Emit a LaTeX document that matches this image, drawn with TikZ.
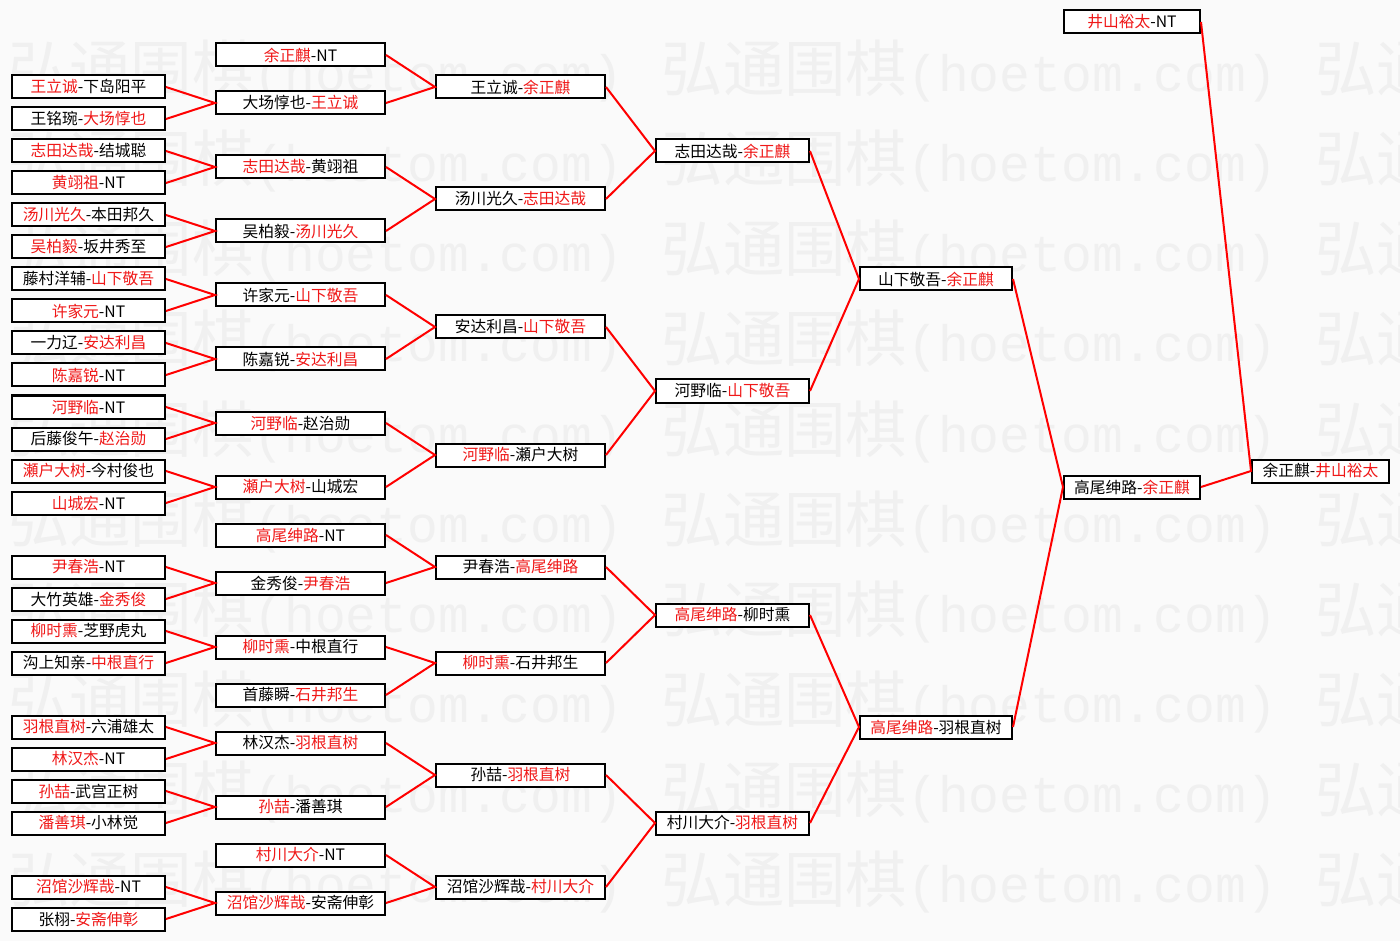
\documentclass[tikz,border=0pt]{standalone}
\usepackage{fontspec}
\setmainfont{Noto Sans CJK SC}
\newfontfamily\wmmono{Liberation Mono}
\usepackage{tikz}
\definecolor{winc}{HTML}{F01818}
\definecolor{linec}{HTML}{FF0000}
\definecolor{bgc}{HTML}{FAFAFA}
\definecolor{wmc}{HTML}{F0F0F0}
\newcommand{\winner}[1]{\textcolor{winc}{#1}}
\newcommand{\wmsite}{{\wmmono\fontsize{38.5}{40}\selectfont (hoetom.com)}}
\newcommand{\wmrow}{弘通围棋\wmsite\hspace{29pt}弘通围棋\wmsite\hspace{29pt}弘通}
\tikzset{
  game/.style={draw, line width=1.5pt, fill=white, inner sep=0pt, minimum height=17.25pt, font=\fontsize{11.8}{13}\selectfont},
  colA/.style={game, minimum width=114.75pt},
  colB/.style={game, minimum width=126.75pt},
  colD/.style={game, minimum width=114.75pt},
  colE/.style={game, minimum width=114pt},
  colF/.style={game, minimum width=102pt},
  conn/.style={draw=linec, line width=1.5pt},
  wm/.style={inner sep=0pt, anchor=base west, text=wmc, font=\fontsize{46}{50}\selectfont},
}

\begin{document}
\begin{tikzpicture}[x=0.75pt, y=-0.75pt]
  \useasboundingbox (0,0) rectangle (1400,941);
  \fill[bgc] (0,0) rectangle (1400,941);
  % watermark
  \begin{scope}
    \clip (0,0) rectangle (1400,941);
    \node[wm] (wm1) at (8,92) {\wmrow};
    \node[wm] (wm2) at (8,182) {\wmrow};
    \node[wm] (wm3) at (8,272) {\wmrow};
    \node[wm] (wm4) at (8,362) {\wmrow};
    \node[wm] (wm5) at (8,452) {\wmrow};
    \node[wm] (wm6) at (8,542) {\wmrow};
    \node[wm] (wm7) at (8,632) {\wmrow};
    \node[wm] (wm8) at (8,722) {\wmrow};
    \node[wm] (wm9) at (8,812) {\wmrow};
    \node[wm] (wm10) at (8,902) {\wmrow};
  \end{scope}

  % round 1
  \node[colA] (a1) at (88.5,87) {\winner{王立诚}-下岛阳平};
  \node[colA] (a2) at (88.5,119) {王铭琬-\winner{大场惇也}};
  \node[colA] (a3) at (88.5,151) {\winner{志田达哉}-结城聪};
  \node[colA] (a4) at (88.5,183) {\winner{黄翊祖}-NT};
  \node[colA] (a5) at (88.5,215) {\winner{汤川光久}-本田邦久};
  \node[colA] (a6) at (88.5,247) {\winner{吴柏毅}-坂井秀至};
  \node[colA] (a7) at (88.5,279) {藤村洋辅-\winner{山下敬吾}};
  \node[colA] (a8) at (88.5,311) {\winner{许家元}-NT};
  \node[colA] (a9) at (88.5,343) {一力辽-\winner{安达利昌}};
  \node[colA] (a10) at (88.5,375) {\winner{陈嘉锐}-NT};
  \node[colA] (a11) at (88.5,407) {\winner{河野临}-NT};
  \node[colA] (a12) at (88.5,439) {后藤俊午-\winner{赵治勋}};
  \node[colA] (a13) at (88.5,471) {\winner{瀬户大树}-今村俊也};
  \node[colA] (a14) at (88.5,503) {\winner{山城宏}-NT};
  \node[colA] (a15) at (88.5,567) {\winner{尹春浩}-NT};
  \node[colA] (a16) at (88.5,599) {大竹英雄-\winner{金秀俊}};
  \node[colA] (a17) at (88.5,631) {\winner{柳时熏}-芝野虎丸};
  \node[colA] (a18) at (88.5,663) {沟上知亲-\winner{中根直行}};
  \node[colA] (a19) at (88.5,727) {\winner{羽根直树}-六浦雄太};
  \node[colA] (a20) at (88.5,759) {\winner{林汉杰}-NT};
  \node[colA] (a21) at (88.5,791) {\winner{孙喆}-武宫正树};
  \node[colA] (a22) at (88.5,823) {\winner{潘善琪}-小林觉};
  \node[colA] (a23) at (88.5,887) {\winner{沼馆沙辉哉}-NT};
  \node[colA] (a24) at (88.5,919) {张栩-\winner{安斋伸彰}};

  % round 2
  \node[colB] (b1) at (300.5,55) {\winner{余正麒}-NT};
  \node[colB] (b2) at (300.5,103) {大场惇也-\winner{王立诚}};
  \node[colB] (b3) at (300.5,167) {\winner{志田达哉}-黄翊祖};
  \node[colB] (b4) at (300.5,231) {吴柏毅-\winner{汤川光久}};
  \node[colB] (b5) at (300.5,295) {许家元-\winner{山下敬吾}};
  \node[colB] (b6) at (300.5,359) {陈嘉锐-\winner{安达利昌}};
  \node[colB] (b7) at (300.5,423) {\winner{河野临}-赵治勋};
  \node[colB] (b8) at (300.5,487) {\winner{瀬户大树}-山城宏};
  \node[colB] (b9) at (300.5,535) {\winner{高尾绅路}-NT};
  \node[colB] (b10) at (300.5,583) {金秀俊-\winner{尹春浩}};
  \node[colB] (b11) at (300.5,647) {\winner{柳时熏}-中根直行};
  \node[colB] (b12) at (300.5,695) {首藤瞬-\winner{石井邦生}};
  \node[colB] (b13) at (300.5,743) {林汉杰-\winner{羽根直树}};
  \node[colB] (b14) at (300.5,807) {\winner{孙喆}-潘善琪};
  \node[colB] (b15) at (300.5,855) {\winner{村川大介}-NT};
  \node[colB] (b16) at (300.5,903) {\winner{沼馆沙辉哉}-安斋伸彰};

  % round 3
  \node[colB] (c1) at (520.5,87) {王立诚-\winner{余正麒}};
  \node[colB] (c2) at (520.5,199) {汤川光久-\winner{志田达哉}};
  \node[colB] (c3) at (520.5,327) {安达利昌-\winner{山下敬吾}};
  \node[colB] (c4) at (520.5,455) {\winner{河野临}-瀬户大树};
  \node[colB] (c5) at (520.5,567) {尹春浩-\winner{高尾绅路}};
  \node[colB] (c6) at (520.5,663) {\winner{柳时熏}-石井邦生};
  \node[colB] (c7) at (520.5,775) {孙喆-\winner{羽根直树}};
  \node[colB] (c8) at (520.5,887) {沼馆沙辉哉-\winner{村川大介}};

  % round 4 and on
  \node[colD] (d1) at (732.5,151) {志田达哉-\winner{余正麒}};
  \node[colD] (d2) at (732.5,391) {河野临-\winner{山下敬吾}};
  \node[colD] (d3) at (732.5,615) {\winner{高尾绅路}-柳时熏};
  \node[colD] (d4) at (732.5,823) {村川大介-\winner{羽根直树}};
  \node[colE] (e1) at (936,279) {山下敬吾-\winner{余正麒}};
  \node[colE] (e2) at (936,727) {\winner{高尾绅路}-羽根直树};
  \node[colF] (f1) at (1132,22) {\winner{井山裕太}-NT};
  \node[colF] (f2) at (1132,487) {高尾绅路-\winner{余正麒}};
  \node[colF, minimum width=102.75pt] (fin) at (1320.5,471) {余正麒-\winner{井山裕太}};

  \draw[conn] (a1.east) -- (b2.west) -- (a2.east); \draw[conn] (a3.east) -- (b3.west) -- (a4.east);
  \draw[conn] (a5.east) -- (b4.west) -- (a6.east); \draw[conn] (a7.east) -- (b5.west) -- (a8.east);
  \draw[conn] (a9.east) -- (b6.west) -- (a10.east); \draw[conn] (a11.east) -- (b7.west) -- (a12.east);
  \draw[conn] (a13.east) -- (b8.west) -- (a14.east); \draw[conn] (a15.east) -- (b10.west) -- (a16.east);
  \draw[conn] (a17.east) -- (b11.west) -- (a18.east); \draw[conn] (a19.east) -- (b13.west) -- (a20.east);
  \draw[conn] (a21.east) -- (b14.west) -- (a22.east); \draw[conn] (a23.east) -- (b16.west) -- (a24.east);
  \draw[conn] (b1.east) -- (c1.west) -- (b2.east); \draw[conn] (b3.east) -- (c2.west) -- (b4.east);
  \draw[conn] (b5.east) -- (c3.west) -- (b6.east); \draw[conn] (b7.east) -- (c4.west) -- (b8.east);
  \draw[conn] (b9.east) -- (c5.west) -- (b10.east); \draw[conn] (b11.east) -- (c6.west) -- (b12.east);
  \draw[conn] (b13.east) -- (c7.west) -- (b14.east); \draw[conn] (b15.east) -- (c8.west) -- (b16.east);
  \draw[conn] (c1.east) -- (d1.west) -- (c2.east); \draw[conn] (c3.east) -- (d2.west) -- (c4.east);
  \draw[conn] (c5.east) -- (d3.west) -- (c6.east); \draw[conn] (c7.east) -- (d4.west) -- (c8.east);
  \draw[conn] (d1.east) -- (e1.west) -- (d2.east); \draw[conn] (d3.east) -- (e2.west) -- (d4.east);
  \draw[conn] (e1.east) -- (f2.west) -- (e2.east);
  \draw[conn] (f1.east) -- (fin.west) -- (f2.east);
\end{tikzpicture}
\end{document}
